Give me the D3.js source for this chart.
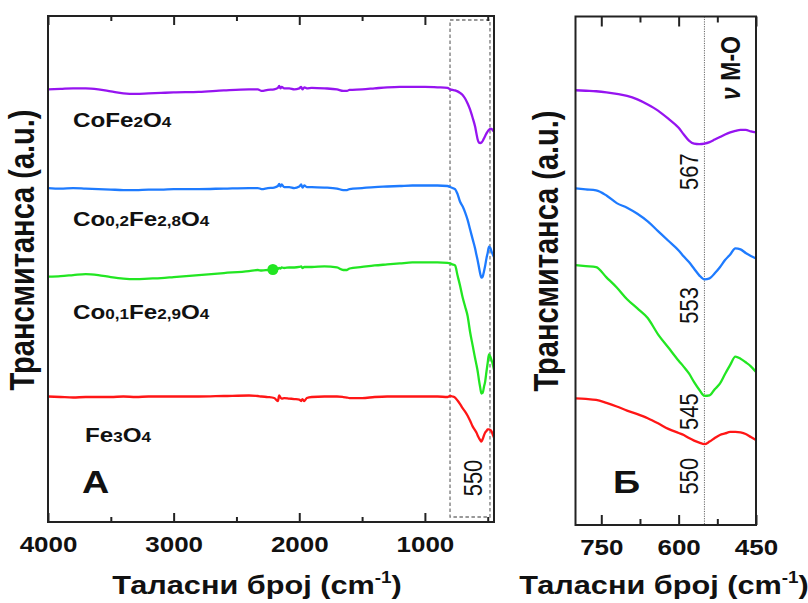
<!DOCTYPE html>
<html><head><meta charset="utf-8">
<script src="https://cdn.jsdelivr.net/npm/d3@7"></script>
<style>
body{margin:0;background:#fff}
svg{display:block}
text{font-family:"Liberation Sans",Arial,Helvetica,sans-serif;fill:#111}
</style>
</head><body>
<svg id="c" width="808" height="603"></svg>
<script>
// ---------------- data ----------------
const wavenumber = [4000,3900,3800,3700,3600,3500,3400,3300,3200,3100,3000,2800,2600,2400,2330,2300,2250,2200,2170,2160,2150,2140,2120,2080,2040,2000,1985,1975,1960,1940,1900,1800,1700,1650,1620,1600,1500,1400,1300,1200,1100,1000,900,820,
  800,780,760,740,720,700,680,660,640,620,600,590,580,570,560,550,540,530,520,510,500,490,480,470,460,450];

const cofe2o4 = [85.5,85.6,85.7,85.7,85.5,85.1,84.7,84.6,84.7,84.8,84.9,85.0,85.3,85.5,85.5,85.2,85.4,85.5,85.8,86.2,85.7,86.0,85.7,85.7,85.5,85.7,86.0,85.5,85.9,85.7,85.8,85.7,85.5,85.2,85.2,85.4,85.5,85.7,85.9,86.0,86.0,86.0,85.9,85.8,
  85.5,85.4,85.3,85.1,84.8,84.4,83.7,82.7,81.5,79.9,78.1,76.8,75.6,75.0,74.9,75.0,75.3,75.8,76.3,76.8,77.2,77.5,77.7,77.7,77.4,77.2];

const co02fe28o4 = [66.0,65.9,66.0,65.9,65.8,65.7,65.6,65.6,65.7,65.7,65.8,65.8,65.9,66.0,66.0,65.8,66.0,66.1,66.4,66.8,66.3,66.7,66.2,66.2,66.0,66.3,66.7,66.1,66.5,66.2,66.2,66.1,65.9,65.6,65.6,65.8,66.0,66.2,66.3,66.4,66.5,66.5,66.5,66.4,
  66.2,66.0,65.8,64.8,63.3,62.4,61.2,59.7,57.8,55.9,54.0,52.8,51.7,50.4,49.1,48.3,48.5,49.5,50.7,52.1,53.2,54.4,54.2,53.5,52.9,52.4];

const co01fe29o4 = [48.5,48.6,48.8,49.0,48.8,48.4,48.1,48.0,48.1,48.2,48.4,48.8,49.2,49.6,49.8,49.7,49.8,49.9,50.0,50.2,50.1,50.3,50.2,50.3,50.3,50.4,50.5,50.2,50.4,50.4,50.4,50.5,50.3,49.8,49.8,50.1,50.4,50.7,50.9,51.1,51.3,51.3,51.3,51.2,
  51.1,50.9,50.7,48.7,46.7,44.4,42.6,40.7,37.5,34.9,32.3,31.1,29.8,28.1,26.6,25.4,25.5,26.7,27.8,29.7,31.5,33.1,32.7,32.0,31.2,30.1];

const fe3o4 = [24.8,24.7,24.6,24.7,24.7,24.7,24.8,24.7,24.8,24.8,24.8,24.8,24.9,25.0,24.9,24.8,24.7,24.5,23.9,25.0,24.6,24.4,24.5,24.4,24.3,24.2,23.9,24.3,23.9,24.5,24.7,24.8,24.8,24.7,24.6,24.5,24.5,24.7,24.8,24.8,24.8,24.8,24.8,24.7,
  24.9,24.8,24.6,24.0,23.3,22.5,21.8,21.0,20.0,18.9,18.1,17.7,17.1,16.6,16.2,15.9,16.4,17.1,17.7,18.0,18.3,18.3,18.2,17.9,17.3,16.7];

const seriesNames = ["CoFe2O4","Co0,2Fe2,8O4","Co0,1Fe2,9O4","Fe3O4"];
const seriesColors = ["#9614f0","#1e7bff","#22e622","#ff1616"];
const seriesValues = [cofe2o4, co02fe28o4, co01fe29o4, fe3o4];

const majorTicksA = [4000,3000,2000,1000];
const minorTicksA = [3500,2500,1500,500];
const majorTicksB = [750,600,450];
const minorTicksB = [675,525];

const markerWn = [2210];
const markerVal = [49.9];

const zoomRange = [800,482];        // dashed box in panel A
const bandCentre = 550;             // dotted line in panel B
const peakLabels = ["567","553","545","550"];
const peakLabelLevel = [69.5,43.2,22.3,9.6];

const xTitle = "Таласни број (cm";
const yTitle = "Трансмитанса (a.u.)";

// ---------------- layout ----------------
const SX = 1.18; // horizontal stretch of the original figure
const svg = d3.select("#c");
const A = {l:48, r:494, t:16, b:522};
const B = {l:575.5, r:756, t:16.5, b:525};

const xA = d3.scaleLinear().domain([4000,450]).range([A.l,A.r]);
const yA = d3.scaleLinear().domain([0,100]).range([A.b,A.t]);
const xB = d3.scaleLinear().domain([800,450]).range([B.l,B.r]);
const yB = d3.scaleLinear().domain([0,100]).range([B.b,B.t]);

const rows = wavenumber.map((w,i)=>({w, v:seriesValues.map(s=>s[i])}));

// ---------- panel A ----------
const gA = svg.append("g");
gA.append("rect")
  .attr("x", xA(zoomRange[0])).attr("y", A.t+4)
  .attr("width", xA(zoomRange[1])-xA(zoomRange[0])).attr("height", A.b-A.t-9)
  .attr("fill","none").attr("stroke","#777").attr("stroke-width",1.3)
  .attr("stroke-dasharray","3.5,2.5");

seriesValues.forEach((s,k)=>{
  gA.append("path").datum(rows)
    .attr("fill","none").attr("stroke",seriesColors[k]).attr("stroke-width",2.3)
    .attr("stroke-linejoin","round")
    .attr("d", d3.line().x(d=>xA(d.w)).y(d=>yA(d.v[k])).curve(d3.curveMonotoneX));
});
gA.selectAll("circle.m").data(markerWn).enter().append("circle")
  .attr("cx",(d)=>xA(d)).attr("cy",(d,i)=>yA(markerVal[i])).attr("r",5.5)
  .attr("fill",seriesColors[2]);

function axes(g, x, box, major, minor, majLen, minLen){
  const bot = g.append("g").attr("transform",`translate(0,${box.b})`)
    .call(d3.axisBottom(x).tickValues(major).tickSize(-majLen).tickPadding(14.5).tickFormat(d3.format("d")));
  g.append("g").attr("transform",`translate(0,${box.b})`)
    .call(d3.axisBottom(x).tickValues(minor).tickSize(-minLen).tickFormat(""));
  g.append("g").attr("transform",`translate(0,${box.t})`)
    .call(d3.axisTop(x).tickValues(major).tickSize(-majLen).tickFormat(""));
  g.append("g").attr("transform",`translate(0,${box.t})`)
    .call(d3.axisTop(x).tickValues(minor).tickSize(-minLen).tickFormat(""));
  g.selectAll(".domain").remove();
  g.selectAll(".tick line").attr("stroke","#222").attr("stroke-width",2);
  bot.selectAll(".tick text").attr("font-size",22).attr("font-weight","bold")
    .attr("fill","#111").attr("font-family",'"Liberation Sans",Arial,sans-serif')
    .attr("transform",`scale(${SX},1)`);
  g.append("rect").attr("x",box.l).attr("y",box.t).attr("width",box.r-box.l).attr("height",box.b-box.t)
    .attr("fill","none").attr("stroke","#222").attr("stroke-width",2);
}
axes(gA, xA, A, majorTicksA, minorTicksA, 9, 5);

// series labels
const labelPos = [[73,127],[73,225.7],[73,319.3],[85,441.7]];
seriesNames.forEach((name,k)=>{
  const t = gA.append("text").attr("transform",`translate(${labelPos[k][0]},${labelPos[k][1]}) scale(${SX},1)`)
    .attr("font-weight","bold").attr("font-size",20.5);
  const parts = name.match(/[A-Za-z]+|[0-9,]+/g);
  parts.forEach(p=>{
    const sub = /[0-9]/.test(p[0]);
    t.append("tspan").text(p).attr("font-size", sub?14.5:20.5);
  });
});

gA.append("text").attr("transform",`translate(82,493) scale(${SX},1)`)
  .attr("font-size",32).attr("font-weight","bold").text("A");

gA.append("text").attr("transform",`translate(481.5,478) scale(${SX},1) rotate(-90)`)
  .attr("text-anchor","middle").attr("font-size",22).text(String(bandCentre));

// ---------- panel B ----------
const gB = svg.append("g");
gB.append("line").attr("x1",xB(bandCentre)).attr("x2",xB(bandCentre)).attr("y1",B.t).attr("y2",B.b)
  .attr("stroke","#666").attr("stroke-width",1).attr("stroke-dasharray","1.2,1.2");
const rowsB = rows.filter(d=>d.w<=800);
seriesValues.forEach((s,k)=>{
  gB.append("path").datum(rowsB)
    .attr("fill","none").attr("stroke",seriesColors[k]).attr("stroke-width",2.3)
    .attr("stroke-linejoin","round")
    .attr("d", d3.line().x(d=>xB(d.w)).y(d=>yB(d.v[k])).curve(d3.curveMonotoneX));
});
axes(gB, xB, B, majorTicksB, minorTicksB, 10, 6);

peakLabels.forEach((p,k)=>{
  gB.append("text").attr("transform",`translate(${xB(bandCentre)-6},${yB(peakLabelLevel[k])}) scale(${SX},1) rotate(-90)`)
    .attr("text-anchor","middle").attr("font-size",22).text(p);
});
const nu = gB.append("text").attr("transform",`translate(740,68) scale(${SX},1) rotate(-90)`)
  .attr("text-anchor","middle").attr("font-size",23).attr("font-weight","bold");
nu.append("tspan").attr("font-style","italic").text("ν");
nu.append("tspan").text(" M-O");

gB.append("text").attr("transform",`translate(613,493) scale(${SX},1)`)
  .attr("font-size",32).attr("font-weight","bold").text("Б");

// ---------- axis titles ----------
function xTitleAt(cx){
  const t = svg.append("text").attr("transform",`translate(${cx},594) scale(${SX},1)`)
    .attr("text-anchor","middle").attr("font-size",26).attr("font-weight","bold");
  t.append("tspan").text(xTitle);
  t.append("tspan").attr("font-size",16).attr("dy",-11).text("-1");
  t.append("tspan").attr("dy",11).text(")");
}
xTitleAt(257);
xTitleAt(664);

function yTitleAt(bx, cy){
  svg.append("text").attr("transform",`translate(${bx},${cy}) scale(${SX},1) rotate(-90)`)
    .attr("text-anchor","middle").attr("font-size",29).attr("font-weight","bold").text(yTitle);
}
yTitleAt(34,250);
yTitleAt(558,251);
</script>
</body></html>
